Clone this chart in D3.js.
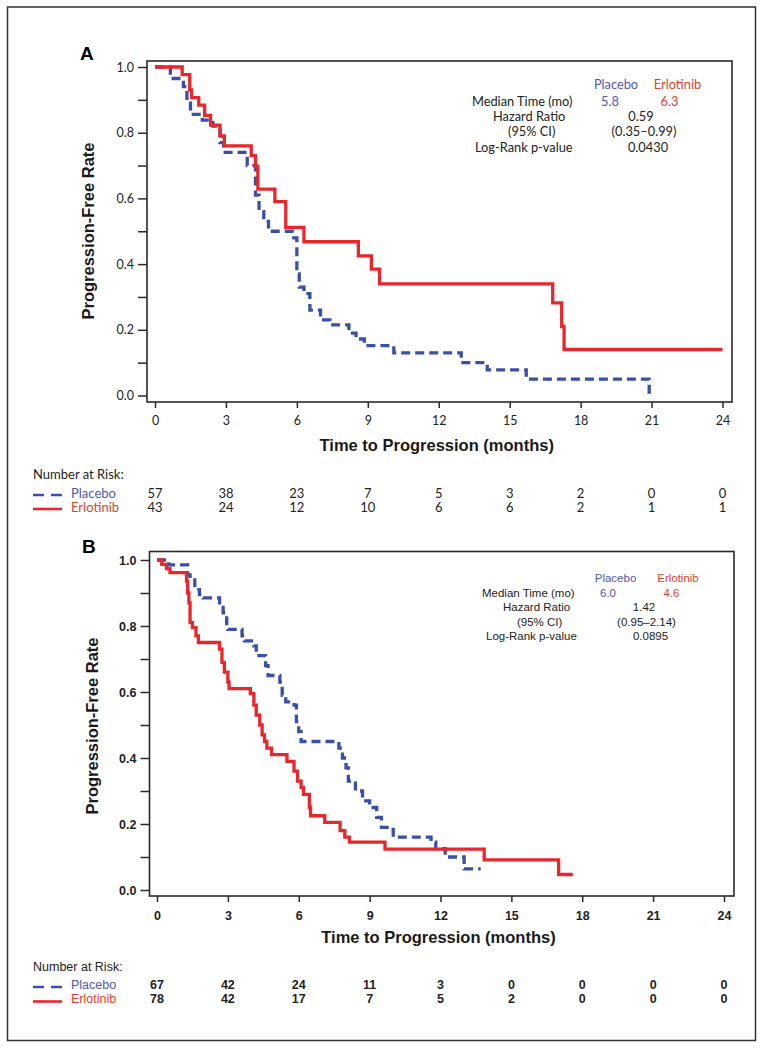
<!DOCTYPE html>
<html><head><meta charset="utf-8">
<script src="https://cdn.jsdelivr.net/npm/d3@7"></script>
<style>
html,body{margin:0;padding:0;background:#fff;}
svg{display:block;}
</style></head>
<body>
<svg id="chart" width="765" height="1050"></svg>
<script>
// ---------------- DATA ----------------
const monthTicks = [0, 3, 6, 9, 12, 15, 18, 21, 24];
const rateTicks = [0, 0.1, 0.2, 0.3, 0.4, 0.5, 0.6, 0.7, 0.8, 0.9, 1.0];
const seriesNames = ["Placebo", "Erlotinib"];

// Panel A Kaplan-Meier steps [month, progression-free rate]
const aPlacebo = [[0,1],[0.65,0.965],[1.2,0.94],[1.35,0.895],[1.5,0.856],[2.0,0.838],[2.45,0.82],[2.75,0.77],[2.9,0.74],[3.9,0.70],[4.25,0.61],[4.4,0.56],[4.6,0.53],[4.8,0.50],[5.8,0.48],[6.0,0.37],[6.1,0.33],[6.3,0.31],[6.55,0.26],[7.0,0.23],[7.4,0.215],[8.2,0.19],[8.5,0.172],[8.85,0.152],[10.1,0.13],[12.95,0.10],[14.05,0.078],[15.7,0.05],[20.9,0.0]];
const aErlotinib = [[0,1],[1.15,0.977],[1.47,0.93],[1.55,0.907],[1.85,0.884],[2.1,0.853],[2.35,0.823],[2.75,0.79],[2.93,0.76],[4.07,0.73],[4.25,0.698],[4.35,0.628],[5.07,0.59],[5.53,0.512],[6.3,0.468],[8.6,0.425],[9.15,0.385],[9.5,0.34],[16.82,0.282],[17.2,0.21],[17.3,0.14],[24,0.14]];
const aRiskPlacebo = [57, 38, 23, 7, 5, 3, 2, 0, 0];
const aRiskErlotinib = [43, 24, 12, 10, 6, 6, 2, 1, 1];
const aMedian = ["5.8", "6.3"];
const aHazard = ["0.59", "(0.35–0.99)", "0.0430"];

// Panel B
const bPlacebo = [[0,1],[0.5,0.985],[1.3,0.955],[1.4,0.94],[1.6,0.91],[1.8,0.895],[1.95,0.885],[2.65,0.865],[2.8,0.84],[2.95,0.80],[3.0,0.79],[3.6,0.77],[3.7,0.755],[4.1,0.74],[4.2,0.71],[4.6,0.68],[4.7,0.65],[5.2,0.63],[5.3,0.59],[5.45,0.57],[5.8,0.56],[5.9,0.51],[6.0,0.48],[6.1,0.45],[7.7,0.43],[7.85,0.40],[8.0,0.37],[8.1,0.33],[8.4,0.30],[8.7,0.27],[9.0,0.25],[9.3,0.22],[9.5,0.19],[10.0,0.16],[11.6,0.145],[11.8,0.125],[12.2,0.10],[13.0,0.064],[13.7,0.064]];
const bErlotinib = [[0,1],[0.2,0.987],[0.4,0.974],[0.55,0.962],[1.25,0.936],[1.3,0.90],[1.35,0.87],[1.4,0.81],[1.5,0.795],[1.65,0.77],[1.75,0.75],[2.65,0.73],[2.75,0.69],[2.85,0.66],[3.0,0.63],[3.05,0.61],[3.95,0.595],[4.1,0.56],[4.2,0.53],[4.35,0.50],[4.45,0.47],[4.55,0.45],[4.65,0.43],[4.85,0.41],[5.5,0.39],[5.8,0.36],[5.95,0.33],[6.1,0.31],[6.2,0.29],[6.45,0.25],[6.5,0.225],[7.1,0.205],[7.75,0.18],[7.95,0.16],[8.15,0.145],[9.65,0.124],[13.85,0.091],[17.0,0.047],[17.6,0.047]];
const bRiskPlacebo = [67, 42, 24, 11, 3, 0, 0, 0, 0];
const bRiskErlotinib = [78, 42, 17, 7, 5, 2, 0, 0, 0];
const bMedian = ["6.0", "4.6"];
const bHazard = ["1.42", "(0.95–2.14)", "0.0895"];

const statLabels = ["Median Time (mo)", "Hazard Ratio", "(95% CI)", "Log-Rank p-value"];

// ---------------- STYLE ----------------
const BLUE = "#3a4fa6", RED = "#e8262b";
const BLUE_TXT = "#5158ad", RED_TXT = "#e0432b";

const svg = d3.select("#chart");
svg.append("rect").attr("x", 7.5).attr("y", 7).attr("width", 748).attr("height", 1033.5)
  .attr("fill", "none").attr("stroke", "#333").attr("stroke-width", 1.5);

function panel(cfg) {
  const g = svg.append("g");
  const x = d3.scaleLinear().domain([0, 24]).range(cfg.xr);
  const y = d3.scaleLinear().domain([0, 1]).range(cfg.yr);
  const f = cfg.font;

  g.append("text").attr("x", cfg.letter[0]).attr("y", cfg.letter[1]).text(cfg.letterText)
    .attr("font-family", "Liberation Sans, Arial, sans-serif").attr("font-weight", "bold").attr("font-size", 19);

  // frame
  g.append("rect").attr("x", cfg.frame[0]).attr("y", cfg.frame[1])
    .attr("width", cfg.frame[2] - cfg.frame[0]).attr("height", cfg.frame[3] - cfg.frame[1])
    .attr("fill", "none").attr("stroke", "#2a2a2a").attr("stroke-width", 1.6);

  // y axis
  const yAxis = d3.axisLeft(y).tickValues(rateTicks).tickSize(9).tickPadding(4)
    .tickFormat(d => (Math.round(d * 10) % 2 === 0) ? d3.format(".1f")(d) : "");
  const ya = g.append("g").attr("transform", `translate(${cfg.frame[0]},0)`).call(yAxis);
  ya.select(".domain").remove();
  ya.selectAll("line").attr("stroke", "#2a2a2a").attr("stroke-width", 1.5);
  ya.selectAll("text").attr("font-family", f.tick).attr("font-size", f.tickSize)
    .attr("font-weight", f.tickWeight).attr("fill", "#222");

  // x axis
  const xAxis = d3.axisBottom(x).tickValues(monthTicks).tickSize(6).tickPadding(cfg.xPad);
  const xa = g.append("g").attr("transform", `translate(0,${cfg.frame[3]})`).call(xAxis);
  xa.select(".domain").remove();
  xa.selectAll("line").attr("stroke", "#2a2a2a").attr("stroke-width", 1.5);
  xa.selectAll("text").attr("font-family", f.tick).attr("font-size", f.tickSize)
    .attr("font-weight", f.tickWeight).attr("fill", "#222");

  // axis titles
  g.append("text").attr("x", (cfg.xr[0] + cfg.xr[1]) / 2 - 2).attr("y", cfg.xTitleY)
    .attr("text-anchor", "middle").attr("font-family", "Liberation Sans, Arial, sans-serif")
    .attr("font-weight", "bold").attr("font-size", 16.5).attr("fill", "#1a1a1a")
    .text("Time to Progression (months)");
  g.append("text").attr("transform", `translate(${cfg.yTitle[0]},${cfg.yTitle[1]}) rotate(-90)`)
    .attr("text-anchor", "middle").attr("font-family", "Liberation Sans, Arial, sans-serif")
    .attr("font-weight", "bold").attr("font-size", 16.5).attr("fill", "#1a1a1a")
    .text("Progression-Free Rate");

  // curves
  const line = d3.line().x(d => x(d[0])).y(d => y(d[1])).curve(d3.curveStepAfter);
  g.append("path").datum(cfg.placebo).attr("d", line).attr("fill", "none")
    .attr("stroke", BLUE).attr("stroke-width", 3.3).attr("stroke-dasharray", "9,5");
  g.append("path").datum(cfg.erlotinib).attr("d", line).attr("fill", "none")
    .attr("stroke", RED).attr("stroke-width", 3.3);

  // stats box
  const s = cfg.stats;
  const lt = (txt, xx, yy, anchor, color) => g.append("text").attr("x", xx).attr("y", yy)
    .attr("text-anchor", anchor).attr("font-family", f.legend).attr("font-size", f.legendSize)
    .attr("fill", color).text(txt);
  lt(seriesNames[0], s.colA, s.rows[0], "middle", BLUE_TXT);
  lt(seriesNames[1], s.colB, s.rows[0], "middle", RED_TXT);
  statLabels.forEach((t, i) => lt(t, s.labelX[i], s.rows[i + 1], "start", "#222"));
  lt(cfg.median[0], s.medA, s.rows[1], "middle", BLUE_TXT);
  lt(cfg.median[1], s.medB, s.rows[1], "middle", RED_TXT);
  cfg.hazard.forEach((t, i) => lt(t, s.valX[i], s.rows[i + 2], "middle", "#222"));

  // number at risk
  const r = cfg.risk;
  const rt = (txt, xx, yy, anchor, color, weight) => g.append("text").attr("x", xx).attr("y", yy)
    .attr("text-anchor", anchor).attr("font-family", f.risk).attr("font-size", f.riskSize)
    .attr("font-weight", weight || "normal").attr("fill", color).text(txt);
  rt("Number at Risk:", 33, r.rows[0], "start", "#222");
  g.append("line").attr("x1", 33).attr("x2", 62).attr("y1", r.lineY[0]).attr("y2", r.lineY[0])
    .attr("stroke", BLUE).attr("stroke-width", 2.6).attr("stroke-dasharray", "11,7");
  g.append("line").attr("x1", 33).attr("x2", 62).attr("y1", r.lineY[1]).attr("y2", r.lineY[1])
    .attr("stroke", RED).attr("stroke-width", 2.6);
  rt(seriesNames[0], 71, r.rows[1], "start", BLUE_TXT);
  rt(seriesNames[1], 71, r.rows[2], "start", RED_TXT);
  monthTicks.forEach((m, i) => {
    rt(cfg.riskP[i], x(m), r.rows[1], "middle", "#222", f.riskNumWeight);
    rt(cfg.riskE[i], x(m), r.rows[2], "middle", "#222", f.riskNumWeight);
  });
}

panel({
  letterText: "A", letter: [80, 60],
  frame: [147, 61, 732, 402], xr: [155, 722.5], yr: [395.5, 67],
  xPad: 8, xTitleY: 451, yTitle: [94, 231],
  font: { tick: "Lato, 'Open Sans', sans-serif", tickSize: 12.5, tickWeight: "normal",
          legend: "Lato, sans-serif", legendSize: 12.8,
          risk: "Lato, sans-serif", riskSize: 13, riskNumWeight: "normal" },
  placebo: aPlacebo, erlotinib: aErlotinib,
  median: aMedian, hazard: aHazard,
  stats: { rows: [89, 106, 121, 136, 152], colA: 616, colB: 677.5, medA: 610, medB: 669.5,
           labelX: [472, 493, 508, 475], valX: [641, 644, 648] },
  riskP: aRiskPlacebo, riskE: aRiskErlotinib,
  risk: { rows: [479, 497.5, 511.5], lineY: [495, 509] }
});

panel({
  letterText: "B", letter: [82, 553],
  frame: [149.5, 551.5, 734, 896], xr: [157, 724], yr: [890, 560],
  xPad: 9, xTitleY: 943, yTitle: [98, 726],
  font: { tick: "Liberation Sans, Arial, sans-serif", tickSize: 12.5, tickWeight: "bold",
          legend: "Liberation Sans, Arial, sans-serif", legendSize: 11.5,
          risk: "Liberation Sans, Arial, sans-serif", riskSize: 12.5, riskNumWeight: "bold" },
  placebo: bPlacebo, erlotinib: bErlotinib,
  median: bMedian, hazard: bHazard,
  stats: { rows: [582, 597, 611, 626, 640], colA: 615.5, colB: 678, medA: 608, medB: 671.5,
           labelX: [482, 503, 517, 486], valX: [644, 646.5, 650.5] },
  riskP: bRiskPlacebo, riskE: bRiskErlotinib,
  risk: { rows: [971, 989, 1002.5], lineY: [987, 1001.5] }
});
</script>
</body></html>
